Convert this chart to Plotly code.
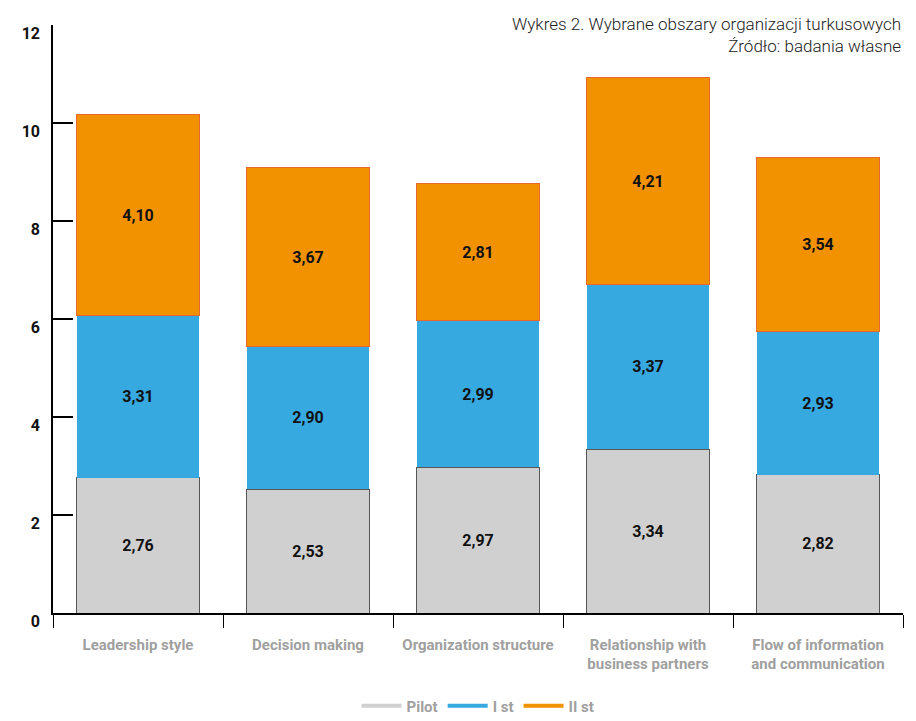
import plotly.graph_objects as go

categories = ["Leadership style", "Decision making", "Organization structure",
              "Relationship with<br>business partners", "Flow of information<br>and communication"]
pilot = [2.76, 2.53, 2.97, 3.34, 2.82]
i_st = [3.31, 2.90, 2.99, 3.37, 2.93]
ii_st = [4.10, 3.67, 2.81, 4.21, 3.54]
series_names = ["Pilot", "I st", "II st"]
y_ticks = [0, 2, 4, 6, 8, 10, 12]

fills = ["#d0d0d0", "#36a9e1", "#f39200"]
edges = ["#555555", "#36a9e1", "#e9662c"]
edge_w = [1, 0, 1]

fig = go.Figure()
for name, vals, fc, ec, ew in zip(series_names, [pilot, i_st, ii_st], fills, edges, edge_w):
    fig.add_trace(go.Bar(
        x=categories, y=vals, name=name, showlegend=False,
        marker=dict(color=fc, line=dict(color=ec, width=ew)),
        texttemplate="%{y:.2f}", textposition="inside", insidetextanchor="middle",
        textfont=dict(family="Roboto", size=16, color="#111111", weight="bold"),
        width=0.72, hoverinfo="skip",
    ))
for name, fc in zip(series_names, fills):
    fig.add_trace(go.Scatter(
        x=[None], y=[None], mode="lines", name=name,
        line=dict(color=fc, width=4), showlegend=True,
    ))

fig.update_layout(
    barmode="stack",
    separators=",.",
    width=916, height=721,
    margin=dict(l=53, r=13, t=25, b=108, autoexpand=False),
    plot_bgcolor="white", paper_bgcolor="white",
    showlegend=True,
    legend=dict(orientation="h", x=0.5, xanchor="center", y=-0.158, yanchor="middle",
                font=dict(family="Roboto", size=15, color="#a0a0a0", weight="bold"),
                itemwidth=40, traceorder="normal"),
    annotations=[dict(
        text="Wykres 2. Wybrane obszary organizacji turkusowych<br>Źródło: badania własne",
        xref="paper", yref="paper", x=1.0, y=1.022, xanchor="right", yanchor="top",
        align="right", showarrow=False,
        font=dict(family="Roboto", size=17, color="#222222", weight=300),
    )],
)
fig.update_xaxes(
    showline=True, linecolor="black", linewidth=1.5,
    ticks="outside", tickson="boundaries", ticklen=13, tickcolor="black",
    tickfont=dict(family="Roboto", size=15, color="#a0a0a0", weight="bold"),
    tickangle=0, ticklabelstandoff=17, automargin=False,
    showgrid=False, range=[-0.5, 4.5],
)
fig.update_yaxes(
    range=[0, 12], tickvals=y_ticks, ticktext=[str(v) for v in y_ticks],
    showline=True, linecolor="black", linewidth=1.5,
    ticks="inside", ticklen=20, tickcolor="black", tickwidth=1.5,
    tickfont=dict(family="Roboto", size=16, color="#111111", weight="bold"),
    ticklabelshift=8, ticklabelstandoff=8, automargin=False,
    showgrid=False, zeroline=False,
)

fig.write_html("out.html")
